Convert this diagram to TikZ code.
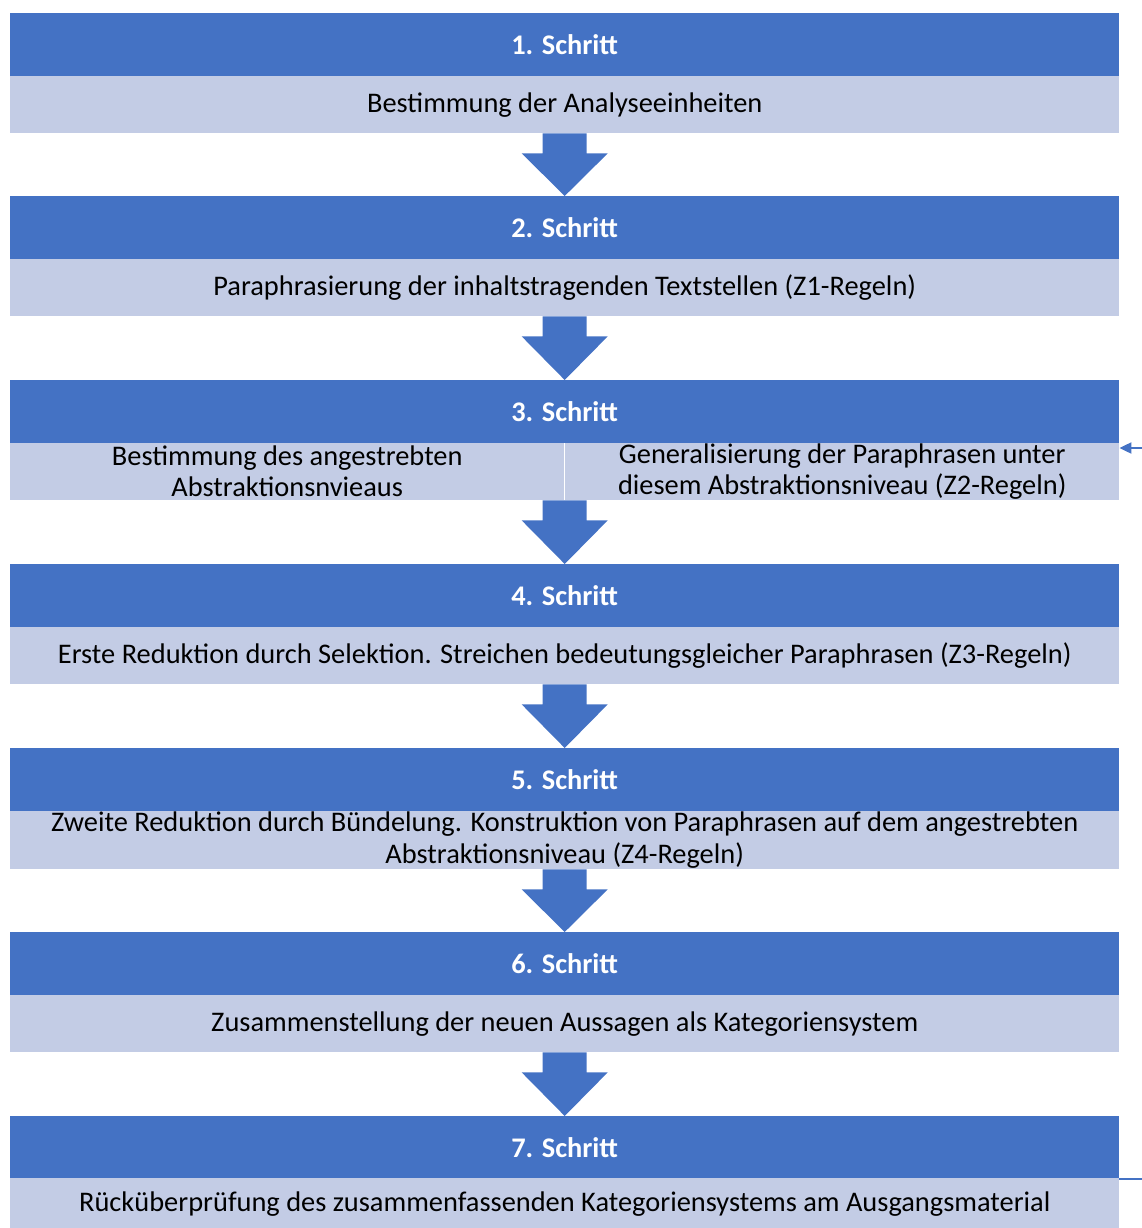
\documentclass[tikz,border=0pt]{standalone}
\usepackage{fontspec}
\setmainfont{Carlito}
\usetikzlibrary{calc,arrows.meta}
\definecolor{dblue}{HTML}{4472C4}
\definecolor{lblue}{HTML}{C3CCE5}
\tikzset{
  head/.style={fill=dblue, text=white, font=\fontsize{28.4}{32}\selectfont\bfseries, minimum width=1109pt, minimum height=63pt, inner sep=0pt, anchor=north west},
  body/.style={fill=lblue, text=black, font=\fontsize{28.4}{32}\selectfont, minimum width=1109pt, minimum height=57pt, inner sep=0pt, anchor=north west, align=center},
  half/.style={fill=lblue, text=black, font=\fontsize{28.4}{31}\selectfont, minimum width=554pt, minimum height=57pt, inner sep=0pt, anchor=north west, align=center},
  blockarrow/.style={fill=dblue},
  feedback/.style={draw=dblue, line width=2pt}
}
\newcommand\myarrow[2]{%
  \fill[blockarrow] ($(#1.south)+(-22,0)$) -- ($(#1.south)+(22,0)$) -- ($(#1.south)+(22,20)$) -- ($(#1.south)+(43,20)$) -- (#2.north) -- ($(#1.south)+(-43,20)$) -- ($(#1.south)+(-22,20)$) -- cycle;}
\begin{document}
\begin{tikzpicture}[x=1pt,y=-1pt]
\useasboundingbox (0,0) rectangle (1141,1228);
\node[head] (h1) at (10,13) {1. Schritt};
\node[body] (l1) at (10,76) {Bestimmung der Analyseeinheiten};
\node[head] (h2) at (10,196) {2. Schritt};
\node[body] (l2) at (10,259) {Paraphrasierung der inhaltstragenden Textstellen (Z1-Regeln)};
\node[head] (h3) at (10,380) {3. Schritt};
\node[half] (l3a) at (10,443) {Bestimmung des angestrebten\\Abstraktionsnvieaus};
\node[half] (l3b) at (565,443) {Generalisierung der Paraphrasen unter\\diesem Abstraktionsniveau (Z2-Regeln)};
\node[head] (h4) at (10,564) {4. Schritt};
\node[body] (l4) at (10,627) {Erste Reduktion durch Selektion. Streichen bedeutungsgleicher Paraphrasen (Z3-Regeln)};
\node[head] (h5) at (10,748) {5. Schritt};
\node[body, minimum height=58pt] (l5) at (10,811) {Zweite Reduktion durch Bündelung. Konstruktion von Paraphrasen auf dem angestrebten\\Abstraktionsniveau (Z4-Regeln)};
\node[head] (h6) at (10,932) {6. Schritt};
\node[body] (l6) at (10,995) {Zusammenstellung der neuen Aussagen als Kategoriensystem};
\node[head] (h7) at (10,1116) {7. Schritt};
\node[body, minimum height=52pt] (l7) at (10,1178) {Rücküberprüfung des zusammenfassenden Kategoriensystems am Ausgangsmaterial};
\myarrow{l1}{h2}
\myarrow{l2}{h3}
\coordinate (l3) at ($(l3a.south west)!0.5!(l3b.south east)$);
\fill[blockarrow] ($(l3)+(-22,0)$) -- ($(l3)+(22,0)$) -- ($(l3)+(22,20)$) -- ($(l3)+(43,20)$) -- (h4.north) -- ($(l3)+(-43,20)$) -- ($(l3)+(-22,20)$) -- cycle;
\myarrow{l4}{h5}
\myarrow{l5}{h6}
\myarrow{l6}{h7}
\coordinate (fbout) at (1145,1177);
\coordinate (fbin) at (1145,448);
\draw[feedback] (h7.south east) -- (h7.south east -| fbout);
\draw[feedback, -{Triangle[length=12pt,width=11pt]}] (fbin) -- (fbin -| l3b.east);
\end{tikzpicture}
\end{document}
